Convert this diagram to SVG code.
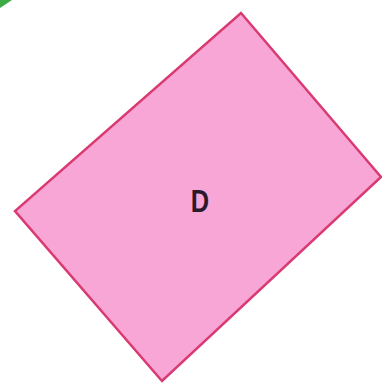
<svg xmlns="http://www.w3.org/2000/svg" width="382" height="383" viewBox="0 0 382 383">
<style>
.shape{fill:#f8a6d6;stroke:#d93a72;stroke-width:2.5;stroke-linejoin:miter}
.lbl{font-family:"Liberation Sans",Arial,sans-serif;font-weight:bold;font-size:31px;fill:#2a1a2c;text-anchor:middle}
</style>
<rect width="382" height="383" fill="#ffffff"/>
<path d="M0,0 L12,0 Q6,4 0,8 Z" fill="#3caa45"/>
<g id="D">
<polygon class="shape" points="241,13 381,177 162,381 15,211"/>
<text class="lbl" transform="translate(200,211.5) scale(0.82,1)" x="0" y="0">D</text>
</g>
</svg>
